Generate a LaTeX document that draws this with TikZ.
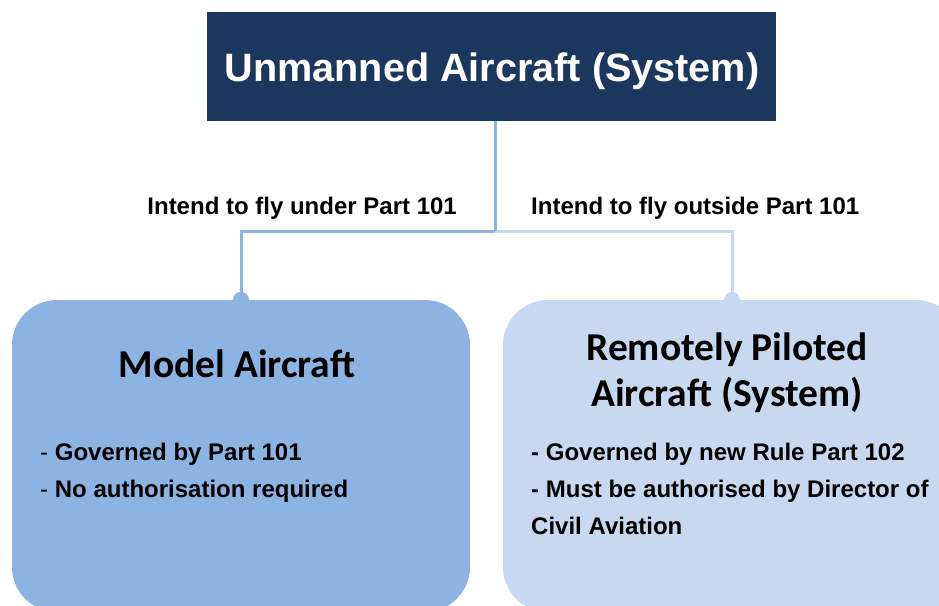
\documentclass[tikz,border=0pt]{standalone}
\usepackage{fontspec}
\setmainfont{Liberation Sans}
\newfontfamily\calib{Carlito}
\definecolor{navy}{HTML}{1B375E}
\definecolor{midblue}{HTML}{8DB3E2}
\definecolor{lightblue}{HTML}{C6D9F1}
\begin{document}
\begin{tikzpicture}[x=1pt,y=-1pt,
  topbox/.style={fill=navy, minimum width=569pt, minimum height=109pt, inner sep=0pt},
  toptext/.style={text=white, font=\fontsize{39.6}{48}\selectfont\bfseries, inner sep=0pt},
  subbox/.style={rounded corners=45pt, minimum height=312pt, inner sep=0pt},
  conn/.style={line width=3pt},
  dotmark/.style={circle, inner sep=0pt, minimum size=16pt},
  lbl/.style={font=\fontsize{24}{28}\selectfont\bfseries, inner sep=0pt},
  head/.style={font=\calib\fontsize{39.5}{46}\selectfont\bfseries, align=center, inner sep=0pt},
  bul/.style={font=\fontsize{24}{37}\selectfont\bfseries, align=left, anchor=north west, inner sep=0pt}
]
\useasboundingbox (0,0) rectangle (939,605);
\clip (0,0) rectangle (939,605);
\node[topbox] (top) at (491.5,66.5) {};
\node[toptext] (title) at (492,71) {Unmanned Aircraft (System)};
\node[subbox, fill=midblue, minimum width=458pt] (model) at (241,456) {};
\node[subbox, fill=lightblue, minimum width=458pt] (rpas) at (732,456) {};
\coordinate (split) at (495,231);
\coordinate (stem) at (top.south -| split);
\node[dotmark, fill=midblue] (dotL) at (model.north) {};
\node[dotmark, fill=lightblue] (dotR) at (rpas.north) {};
\draw[conn, midblue] (stem) -- (split) -| (dotL.center);
\draw[conn, lightblue] (split) -| (dotR.center);
\draw[conn, midblue] (stem) -- (split);
\node[lbl, anchor=east] (lblL) at (457,208) {Intend to fly under Part 101};
\node[lbl, anchor=west] (lblR) at (531,208) {Intend to fly outside Part 101};
\node[head] (mhead) at (237,364) {Model Aircraft};
\node[head] (rhead) at (727,373) {Remotely Piloted\\Aircraft (System)};
\node[bul] (mbul) at (40,443) {\textmd{-} Governed by Part 101\\\textmd{-} No authorisation required};
\node[bul] (rbul) at (531,443) {- Governed by new Rule Part 102\\- Must be authorised by Director of\\Civil Aviation};
\end{tikzpicture}
\end{document}
